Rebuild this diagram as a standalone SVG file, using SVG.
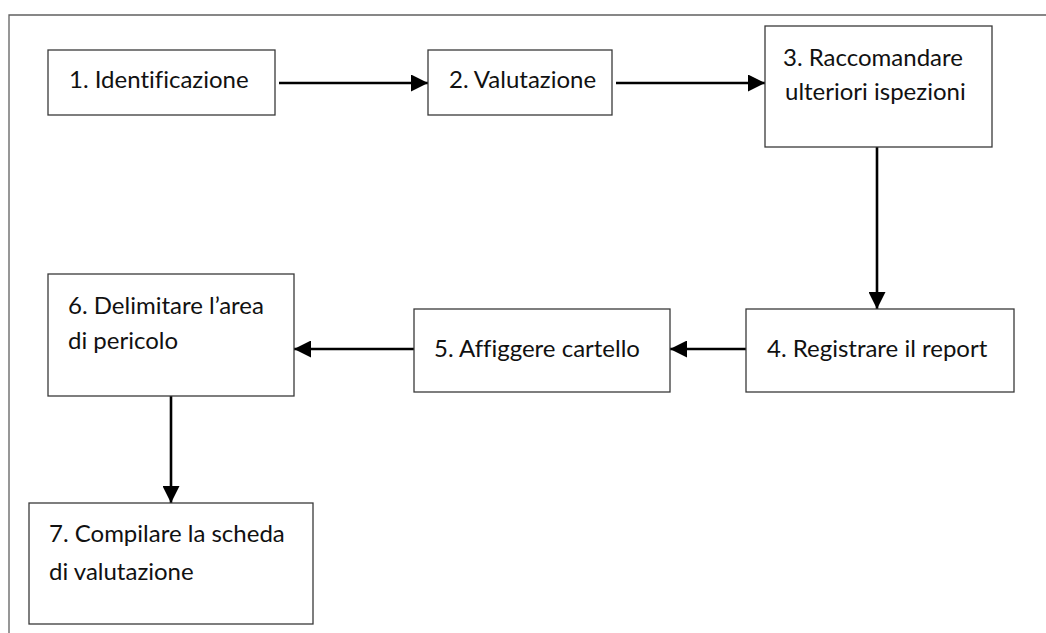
<svg xmlns="http://www.w3.org/2000/svg" width="1046" height="633" viewBox="0 0 1046 633">
<defs>
<marker id="ah" viewBox="0 0 17 17" refX="17" refY="8.5" markerWidth="17" markerHeight="17" markerUnits="userSpaceOnUse" orient="auto">
<path d="M0,0 L17,8.5 L0,17 z" fill="#000"/>
</marker>
<style>
.box{fill:#fff;stroke:#3a3a3a;stroke-width:1.3}
.t{font-family:Lato,"Liberation Sans",Arial,sans-serif;font-size:24px;fill:#111;font-variant-ligatures:none}
.c{fill:none;stroke:#000;stroke-width:2.6;marker-end:url(#ah)}
.frame{fill:none;stroke:#606060;stroke-width:1.3}
</style>
</defs>
<rect width="1046" height="633" fill="#fff"/>
<path class="frame" d="M9,633 L9,15 L1046,15"/>
<g id="connectors">
<line class="c" x1="279" y1="83" x2="428" y2="83"/>
<line class="c" x1="616" y1="83" x2="765" y2="83"/>
<line class="c" x1="877" y1="147" x2="877" y2="309"/>
<line class="c" x1="746" y1="349" x2="670" y2="349"/>
<line class="c" x1="414" y1="349" x2="294" y2="349"/>
<line class="c" x1="171" y1="396" x2="171" y2="503"/>
</g>
<g id="n1"><rect class="box" x="48" y="50" width="227" height="65"/><text class="t" x="69" y="88">1. Identificazione</text></g>
<g id="n2"><rect class="box" x="428" y="50" width="184" height="65"/><text class="t" x="449" y="88">2. Valutazione</text></g>
<g id="n3"><rect class="box" x="765" y="26" width="227" height="121"/><text class="t" x="783" y="66">3. Raccomandare</text><text class="t" x="785" y="100">ulteriori ispezioni</text></g>
<g id="n4"><rect class="box" x="746" y="309" width="268" height="83"/><text class="t" x="767" y="357">4. Registrare il report</text></g>
<g id="n5"><rect class="box" x="414" y="309" width="256" height="83"/><text class="t" x="434" y="357">5. Affiggere cartello</text></g>
<g id="n6"><rect class="box" x="48" y="274" width="246" height="122"/><text class="t" x="68" y="314">6. Delimitare l’area</text><text class="t" x="68" y="349">di pericolo</text></g>
<g id="n7"><rect class="box" x="29" y="503" width="284" height="121"/><text class="t" x="49" y="542">7. Compilare la scheda</text><text class="t" x="49" y="580">di valutazione</text></g>
</svg>
